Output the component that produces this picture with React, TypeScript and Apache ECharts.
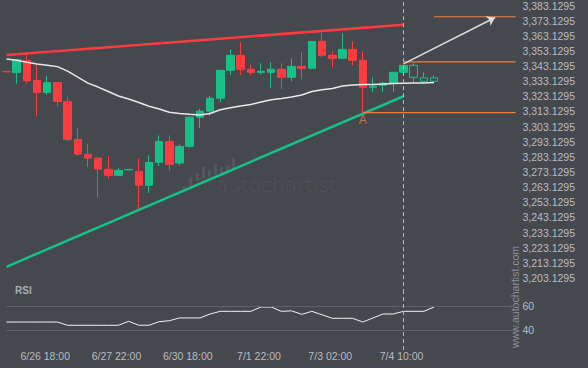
import React, { useEffect, useRef } from 'react';
import * as echarts from 'echarts';

// ---------- data ----------
const PRICE_OFFSET = 3.1295; // tick labels sit at x3.1295 prices
const CATEGORY_COUNT = 51;

// OHLC per 4h candle (last three are projected, drawn hollow)
const opens = [3339.6, 3338.79, 3346.7, 3333.52, 3325.62, 3332.21, 3319.69, 3294.65, 3284.77, 3282.33, 3274.89, 3270.94, 3274.55, 3273.57, 3264.35, 3279.5, 3293.34, 3279.04, 3290.04, 3309.34, 3313.3, 3321.86, 3340.31, 3350.19, 3340.97, 3338.99, 3338.99, 3340.97, 3335.7, 3342.94, 3341.63, 3359.41, 3350.19, 3348.21, 3354.14, 3346.9, 3329.11, 3330.43, 3331.74, 3338.99, 3343.6, 3335.3, 3333.06];
const closes = [3339.3, 3347.36, 3333.52, 3325.62, 3332.21, 3319.69, 3294.65, 3284.97, 3282.33, 3275.09, 3270.94, 3274.23, 3274.75, 3264.35, 3279.5, 3293.34, 3278.18, 3290.04, 3309.34, 3313.3, 3321.86, 3340.31, 3350.19, 3340.97, 3338.99, 3339.65, 3340.97, 3335.7, 3342.94, 3341.63, 3359.41, 3350.19, 3348.21, 3354.14, 3346.9, 3329.11, 3329.77, 3331.74, 3338.99, 3343.6, 3335.7, 3333.06, 3335.3];
const lows = [3339.1, 3331.35, 3331.74, 3310.27, 3324.1, 3316.59, 3293.34, 3283.92, 3276.4, 3256.25, 3268.76, 3270.28, 3274.5, 3248.34, 3259.28, 3277.06, 3274.23, 3277.52, 3289.19, 3302.1, 3310.27, 3319.23, 3337.28, 3337.28, 3337.01, 3337.48, 3328.45, 3327.79, 3333.06, 3334.38, 3340.97, 3348.87, 3342.28, 3348.0, 3343.6, 3312.4, 3325.81, 3325.81, 3325.81, 3338.8, 3332.4, 3332.01, 3333.06];
const highs = [3339.8, 3347.7, 3350.65, 3344.52, 3336.82, 3332.5, 3322.98, 3301.9, 3291.82, 3282.5, 3283.45, 3275.75, 3274.8, 3281.94, 3284.11, 3297.29, 3297.29, 3291.36, 3310.0, 3314.88, 3323.44, 3340.6, 3354.14, 3358.56, 3344.06, 3344.92, 3345.58, 3344.92, 3348.21, 3352.17, 3359.6, 3365.34, 3352.83, 3364.68, 3359.41, 3352.83, 3335.7, 3333.06, 3339.2, 3343.8, 3344.92, 3338.99, 3337.01];
const projectedFrom = 40;

const maValues = [3347.82, 3347.03, 3345.71, 3344.52, 3343.73, 3342.75, 3339.78, 3335.83, 3331.88, 3329.24, 3326.28, 3323.31, 3321.33, 3319.03, 3316.59, 3314.75, 3312.64, 3311.78, 3311.26, 3310.79, 3311.78, 3314.22, 3315.54, 3316.72, 3317.71, 3319.36, 3320.81, 3321.66, 3322.65, 3323.97, 3326.28, 3327.4, 3328.25, 3329.9, 3330.56, 3330.89, 3331.02, 3331.35, 3331.55, 3331.74, 3331.87, 3332.0, 3332.2];

const rsiValues = [46.9, 46.9, 46.9, 46.9, 46.9, 46.9, 44.2, 44.2, 44.2, 44.2, 44.2, 44.2, 47.5, 44.2, 44.2, 47.2, 48.0, 50.3, 50.3, 50.3, 53.6, 55.8, 55.8, 55.8, 55.8, 59.4, 59.4, 55.8, 56.2, 53.3, 55.8, 52.9, 50.0, 50.0, 50.0, 46.9, 50.3, 53.6, 53.6, 55.8, 55.8, 55.8, 59.4];
const rsiLevels = [40, 60];

const tickIndex = [4, 11, 18, 25, 32, 39];
const tickLabels = ['6/26 18:00', '6/27 22:00', '6/30 18:00', '7/1 22:00', '7/3 02:00', '7/4 10:00'];

const resistanceLine = [[0, 3350.45], [39, 3370.42]];
const supportLine = [[0, 3210.52], [39, 3323.18]];
const breakoutLevel = [[39, 3345.84], [50, 3345.84]];
const targetLevel = [[42, 3375.69], [50, 3375.69]];
const pivotLevel = [[35, 3312.4], [50, 3312.4]];
const forecastArrow = [[39, 3344.52], [48, 3375.22]];
const pivotPoint = [35, 3312.4];
const pivotName = 'A';
const nowIndex = 39;
const rsiNowSpan = [23.6, 72];

// ---------- styles ----------
const BG = '#45484d';
const UP = '#17c086';
const DOWN = '#fe3c3f';
const ORANGE = '#f47d3a';
const LABEL = '#b9bcc0';
const FONT = '"Liberation Sans", Arial, sans-serif';

const toAxis = (p: number) => p - PRICE_OFFSET;
const pts = (arr: number[][]) => arr.map(([i, v]) => [i, toAxis(v)]);

export default function App() {
  const ref = useRef<HTMLDivElement>(null);
  useEffect(() => {
    if (!ref.current) return;
    const chart = echarts.init(ref.current, undefined, { renderer: 'svg' });
    const categories = Array.from({ length: CATEGORY_COUNT }, (_, i) => String(i));
    const labelFor = (v: string | number) => {
      const k = tickIndex.indexOf(Number(v));
      return k >= 0 ? tickLabels[k] : '';
    };
    const candleData = opens.map((o, i) => {
      const value = [o, closes[i], lows[i], highs[i]].map(toAxis);
      if (i >= projectedFrom) {
        return {
          value,
          itemStyle: { color: 'transparent', color0: 'transparent', borderColor: UP, borderColor0: DOWN },
        };
      }
      return value;
    });
    const fmtPrice = (u: number) => {
      if (u < 3195 || Math.abs(u - Math.round(u / 10) * 10) > 0.01) return '';
      return (u + PRICE_OFFSET).toLocaleString('en-US', { minimumFractionDigits: 4, maximumFractionDigits: 4 });
    };
    const barsIcon = [
      [183, 186, 191], [189.5, 177, 188], [196, 173, 181], [202, 166.5, 178], [208, 170, 176.5],
      [214, 164, 175], [220, 167, 175], [226, 165.5, 172], [232, 158, 169],
    ];

    const option: any = {
      animation: false,
      backgroundColor: BG,
      textStyle: { fontFamily: FONT },
      grid: [
        { left: 6.5, top: 0, width: 509, height: 293.1 },
        { left: 6.5, top: 291.9, width: 509, height: 62.4 },
      ],
      xAxis: [
        { type: 'category', gridIndex: 0, data: categories, boundaryGap: false, show: false },
        {
          type: 'category', gridIndex: 1, data: categories, boundaryGap: false,
          axisLine: { show: false }, axisTick: { show: false }, splitLine: { show: false },
          axisLabel: { interval: 0, formatter: labelFor, color: LABEL, fontSize: 10.5, margin: -4, padding: [0, 4, 0, 0] },
        },
      ],
      yAxis: [
        {
          type: 'value', gridIndex: 0, position: 'right', min: 3190, max: 3383.096, interval: 10,
          axisLine: { show: false }, axisTick: { show: false }, splitLine: { show: false },
          axisLabel: { formatter: fmtPrice, color: LABEL, fontSize: 10.5, margin: 7 },
        },
        {
          type: 'value', gridIndex: 1, position: 'right', min: 20, max: 72, interval: 20,
          axisLine: { show: false }, axisTick: { show: false }, splitLine: { show: false },
          axisLabel: {
            formatter: (v: number) => (rsiLevels.includes(v) ? String(v) : ''),
            color: LABEL, fontSize: 10.5, margin: 7,
          },
        },
      ],
      graphic: [
        { type: 'text', left: 15, top: 285, style: { text: 'RSI', fill: '#a9acb1', font: `bold 10px ${FONT}` } },
        {
          type: 'text', x: 216, y: 185, z: -1,
          style: { text: 'autochartist', fill: 'rgba(255,255,255,0.08)', font: `300 20px "DejaVu Sans", sans-serif`, textVerticalAlign: 'middle' },
        },
        ...barsIcon.map(([x, t, b]) => ({
          type: 'rect', z: -1, shape: { x, y: t, width: 3, height: b - t }, style: { fill: 'rgba(255,255,255,0.08)' },
        })),
        {
          type: 'text', x: 515, y: 297, rotation: Math.PI / 2,
          style: { text: 'www.autochartist.com', fill: '#8d9095', font: `10.5px ${FONT}`, textAlign: 'center', textVerticalAlign: 'middle' },
        },
      ],
      series: [
        {
          type: 'candlestick', xAxisIndex: 0, yAxisIndex: 0, barWidth: 8, data: candleData,
          itemStyle: { color: UP, color0: DOWN, borderColor: UP, borderColor0: DOWN, borderWidth: 1 },
          markLine: {
            silent: true, symbol: 'none', label: { show: false },
            lineStyle: { type: [4, 3], color: '#b8b8b8', width: 1 },
            data: [{ xAxis: nowIndex }],
          },
        },
        {
          type: 'line', xAxisIndex: 0, yAxisIndex: 0, data: maValues.map(toAxis), symbol: 'none', z: 3,
          lineStyle: { color: '#e8e8e8', width: 1.5 },
        },
        { type: 'line', xAxisIndex: 0, yAxisIndex: 0, data: pts(resistanceLine), symbol: 'none', z: 4, lineStyle: { color: DOWN, width: 2.5 } },
        { type: 'line', xAxisIndex: 0, yAxisIndex: 0, data: pts(supportLine), symbol: 'none', z: 4, lineStyle: { color: UP, width: 2.5 } },
        { type: 'line', xAxisIndex: 0, yAxisIndex: 0, data: pts(targetLevel), symbol: 'none', z: 4, lineStyle: { color: ORANGE, width: 1.2 } },
        { type: 'line', xAxisIndex: 0, yAxisIndex: 0, data: pts(pivotLevel), symbol: 'none', z: 4, lineStyle: { color: ORANGE, width: 1.2 } },
        {
          type: 'line', xAxisIndex: 0, yAxisIndex: 0, data: pts(breakoutLevel), symbol: 'none', z: 4,
          lineStyle: { color: ORANGE, width: 1.2 },
          markLine: {
            silent: true, symbol: ['none', 'arrow'], symbolSize: 8, label: { show: false },
            lineStyle: { color: '#dcdcdc', width: 1.5, type: 'solid' },
            data: [[{ coord: pts(forecastArrow)[0] }, { coord: pts(forecastArrow)[1] }]],
          },
        },
        {
          type: 'scatter', xAxisIndex: 0, yAxisIndex: 0, data: [pts([pivotPoint])[0]], symbolSize: 1, z: 5,
          itemStyle: { color: 'transparent' },
          label: { show: true, formatter: pivotName, position: 'bottom', distance: 1, color: ORANGE, fontSize: 12 },
        },
        {
          type: 'line', xAxisIndex: 1, yAxisIndex: 1, data: rsiValues, symbol: 'none',
          lineStyle: { color: '#f2f2f2', width: 1 },
          markLine: {
            silent: true, symbol: 'none', label: { show: false },
            data: [
              ...rsiLevels.map((v) => ({ yAxis: v, lineStyle: { color: '#5e6166', width: 1, type: 'solid' } })),
              [
                { coord: [nowIndex, rsiNowSpan[0]], lineStyle: { color: '#b8b8b8', width: 1, type: [4, 3] } },
                { coord: [nowIndex, rsiNowSpan[1]] },
              ],
            ],
          },
        },
      ],
    };
    chart.setOption(option);
    return () => chart.dispose();
  }, []);
  return <div ref={ref} style={{ position: 'fixed', left: 0, top: 0, width: 588, height: 368 }} />;
}
